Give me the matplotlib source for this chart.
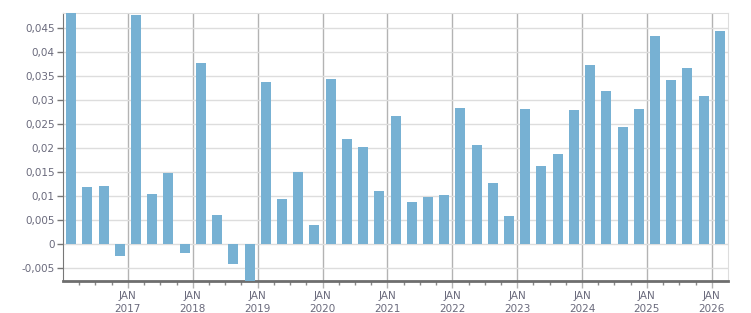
import numpy as np
import matplotlib
matplotlib.use("Agg")
from matplotlib import pyplot as plt
from matplotlib.ticker import FixedLocator, FuncFormatter

# quarterly values, Q1 2016 .. Q1 2026
values = [0.0482, 0.0119, 0.0121, -0.0024,
          0.0477, 0.0104, 0.0148, -0.0018,
          0.0377, 0.0060, -0.0041, -0.0080,
          0.0338, 0.0094, 0.0150, 0.0040,
          0.0344, 0.0219, 0.0202, 0.0110,
          0.0267, 0.0088, 0.0098, 0.0102,
          0.0283, 0.0206, 0.0127, 0.0058,
          0.0281, 0.0163, 0.0188, 0.0279,
          0.0373, 0.0319, 0.0244, 0.0281,
          0.0433, 0.0342, 0.0367, 0.0308,
          0.0444]
years = list(range(2017, 2027))
yticks = [-0.005, 0, 0.005, 0.01, 0.015, 0.02, 0.025, 0.03, 0.035, 0.04, 0.045]

x = 2016 + 0.25 * np.arange(len(values)) + 0.125  # middle of each quarter

fig = plt.figure(figsize=(7.51, 3.13), dpi=100)
ax = fig.add_axes([0.0839, 0.1022, 0.8855, 0.8563])

ax.bar(x, values, width=0.154, color="#77b1d3", zorder=3)

ax.set_xlim(2016, 2026.25)
ax.set_ylim(-0.00771, 0.048125)

ax.set_yticks(yticks)
ax.yaxis.set_major_formatter(FuncFormatter(lambda v, p: ("%g" % round(v, 4)).replace(".", ",")))
ax.xaxis.set_major_locator(FixedLocator(years))
ax.xaxis.set_minor_locator(FixedLocator([2016 + 0.25 * i for i in range(1, 41) if i % 4]))
ax.set_xticklabels(["JAN\n%d" % y for y in years])

ax.grid(axis="y", color="#dddddd", linewidth=1, zorder=0)
ax.grid(axis="x", which="major", color="#b3b3b3", linewidth=1, zorder=1)

lab = "#6a6a7c"
ax.tick_params(axis="y", length=4, width=1, color="#777777", labelsize=7.5, labelcolor=lab, pad=2)
ax.tick_params(axis="x", which="major", length=5, width=1, color="#b3b3b3", labelsize=7.5, labelcolor=lab, pad=2)
ax.tick_params(axis="x", which="minor", length=3, width=1, color="#888888")
for t in ax.get_xticklabels():
    t.set_linespacing(1.45)

ax.spines["left"].set_color("#777777")
ax.spines["bottom"].set_color("#6e6e6e")
ax.spines["bottom"].set_linewidth(2)
ax.spines["top"].set_color("#dddddd")
ax.spines["right"].set_color("#dddddd")

fig.savefig("out.png", dpi=100)
